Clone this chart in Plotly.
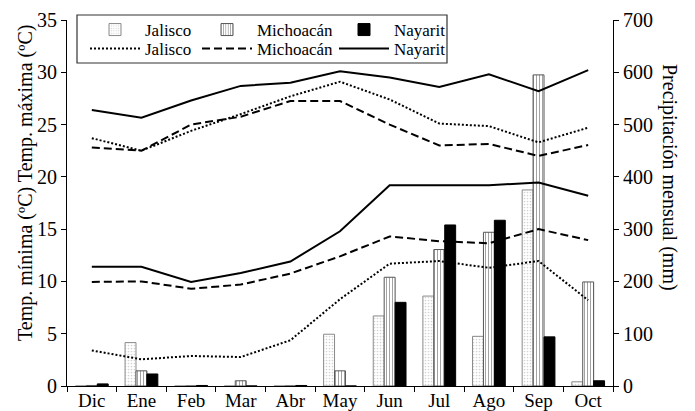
import plotly.graph_objects as go

months = ["Dic", "Ene", "Feb", "Mar", "Abr", "May", "Jun", "Jul", "Ago", "Sep", "Oct"]

# Precipitación mensual (mm)
pp_jalisco = [0, 83, 0, 0, 0, 99, 134, 172, 95, 375, 8]
pp_michoacan = [1, 29, 0, 10, 0, 29, 208, 261, 294, 595, 199]
pp_nayarit = [4, 23, 1, 0, 1, 0, 160, 308, 317, 94, 10]

# Temperatura máxima (°C)
tmax_jalisco = [23.7, 22.5, 24.4, 26.0, 27.7, 29.1, 27.4, 25.1, 24.85, 23.3, 24.7]
tmax_michoacan = [22.8, 22.5, 25.0, 25.75, 27.25, 27.25, 25.0, 23.0, 23.15, 22.0, 23.05]
tmax_nayarit = [26.4, 25.65, 27.3, 28.7, 29.0, 30.1, 29.5, 28.6, 29.8, 28.2, 30.2]

# Temperatura mínima (°C)
tmin_jalisco = [3.4, 2.55, 2.87, 2.77, 4.37, 8.3, 11.7, 11.95, 11.3, 11.95, 8.2]
tmin_michoacan = [9.95, 10.0, 9.3, 9.7, 10.75, 12.4, 14.3, 13.85, 13.65, 15.0, 13.95]
tmin_nayarit = [11.4, 11.4, 9.95, 10.8, 11.9, 14.8, 19.2, 19.2, 19.2, 19.45, 18.2]

FONT = "Liberation Serif"

# page offset of the plot div (browser body margin)
OFF = 8
W, H = 695 - OFF, 411 - OFF
ML, MR, MT, MB = 67 - OFF, 82, 20 - OFF, 25
PX0, PX1, PY0, PY1 = 67, 613, 20, 386  # plot area in page pixels


def px_x(x):
    return (x - PX0) / (PX1 - PX0)


def px_y(y):
    return (PY1 - y) / (PY1 - PY0)


fig = go.Figure()

# Bars (precipitation, right axis)
fig.add_trace(go.Bar(
    x=months, y=pp_jalisco, name="Jalisco", legend="legend2",
    marker=dict(color="white", line=dict(color="#8a8a8a", width=1),
                pattern=dict(shape=".", fgcolor="#a8a8a8", bgcolor="white", size=3, solidity=0.25)),
    yaxis="y"))
fig.add_trace(go.Bar(
    x=months, y=pp_michoacan, name="Michoacán", legend="legend3",
    marker=dict(color="white", line=dict(color="#555555", width=1),
                pattern=dict(shape="|", fgcolor="#333333", bgcolor="white", size=3, solidity=0.3)),
    yaxis="y"))
fig.add_trace(go.Bar(
    x=months, y=pp_nayarit, name="Nayarit", legend="legend4",
    marker=dict(color="black", line=dict(color="black", width=1)),
    yaxis="y"))

# Lines (temperature, left axis)
styles = [("Jalisco", "2px,2px", tmax_jalisco, tmin_jalisco, "legend5"),
          ("Michoacán", "8px,4px", tmax_michoacan, tmin_michoacan, "legend6"),
          ("Nayarit", "solid", tmax_nayarit, tmin_nayarit, "legend7")]
for name, dash, tmax, tmin, lg in styles:
    fig.add_trace(go.Scatter(
        x=months, y=tmax, name=name, mode="lines", legend=lg, legendgroup=name,
        line=dict(color="black", width=2, dash=dash), yaxis="y2"))
    fig.add_trace(go.Scatter(
        x=months, y=tmin, name=name, mode="lines", legend=lg, legendgroup=name,
        showlegend=False, line=dict(color="black", width=2, dash=dash), yaxis="y2"))

axis_common = dict(showline=True, linecolor="black", linewidth=1, ticks="outside",
                   ticklen=5, tickcolor="black", showgrid=False, zeroline=False,
                   automargin=False,
                   tickfont=dict(family=FONT, size=20, color="black"))


def legend_at(xpx, ypx):
    return dict(orientation="h", x=px_x(xpx), y=px_y(ypx),
                xanchor="left", yanchor="middle", bgcolor="rgba(0,0,0,0)",
                borderwidth=0, itemwidth=50, tracegroupgap=0,
                font=dict(family=FONT, size=17, color="black"))


fig.update_layout(
    width=W, height=H,
    margin=dict(l=ML, r=MR, t=MT, b=MB, autoexpand=False),
    paper_bgcolor="white", plot_bgcolor="white",
    font=dict(family=FONT, size=19, color="black"),
    showlegend=True,
    barmode="group", bargap=0.34, bargroupgap=0,
    xaxis=dict(type="category", tickson="boundaries", showline=True, linecolor="black",
               linewidth=1, ticks="outside", ticklen=5, tickcolor="black", showgrid=False,
               automargin=False, ticklabelstandoff=-3,
               tickfont=dict(family=FONT, size=19, color="black"), anchor="y"),
    yaxis=dict(side="right", range=[0, 700], dtick=100, **axis_common),
    yaxis2=dict(side="left", overlaying="y", range=[0, 35], dtick=5, anchor="x", **axis_common),
    legend2=legend_at(85, 30),
    legend3=legend_at(197, 30),
    legend4=legend_at(334, 30),
    legend5=legend_at(85, 49),
    legend6=legend_at(197, 49),
    legend7=legend_at(334, 49),
    shapes=[dict(type="rect", xref="paper", yref="paper", x0=px_x(77), x1=px_x(447),
                 y0=px_y(63), y1=px_y(15), line=dict(color="#333333", width=1.2))],
    annotations=[
        dict(text="Temp. mínima (ºC) Temp. máxima (ºC)", xref="paper", yref="paper",
             x=px_x(25), y=px_y(183), xanchor="center", yanchor="middle",
             textangle=-90, showarrow=False,
             font=dict(family=FONT, size=20, color="black")),
        dict(text="Precipitación mensual (mm)", xref="paper", yref="paper",
             x=px_x(670), y=px_y(177), xanchor="center", yanchor="middle",
             textangle=90, showarrow=False,
             font=dict(family=FONT, size=20, color="black")),
    ],
)

fig.write_html("out.html")
